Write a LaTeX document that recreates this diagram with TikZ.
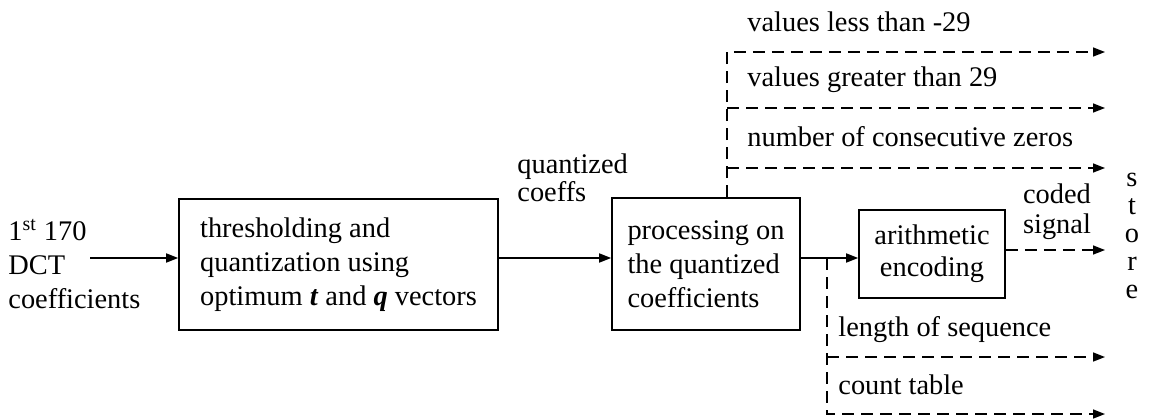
\documentclass[tikz,border=0pt]{standalone}
\usepackage{fontspec}
\setmainfont{Liberation Serif}
\usetikzlibrary{arrows.meta}
\begin{document}
\begin{tikzpicture}[x=0.5pt,y=-0.5pt,
  font=\fontsize{14.2}{17}\selectfont,
  box/.style={draw,line width=0.8pt,inner sep=0pt,align=left},
  lbl/.style={inner sep=0pt,anchor=west},
  tip/.style={-{Triangle[length=6pt,width=4.5pt]}},
  arr/.style={line width=0.8pt,tip},
  dline/.style={line width=0.8pt,dash pattern=on 6pt off 3.5pt},
  darr/.style={dline,tip},
]
\useasboundingbox (0,0) rectangle (1151,418);

% boxes
\node[box, minimum width=159.5pt, minimum height=65.5pt] (q) at (338.5,264.5)
  {thresholding and\\quantization using\\optimum \textit{\textbf{t}} and \textit{\textbf{q}} vectors};
\node[box, minimum width=94pt, minimum height=66pt] (p) at (706,264)
  {processing on\\the quantized\\coefficients};
\node[box, align=center, minimum width=73pt, minimum height=44pt, font=\fontsize{14.2}{16}\selectfont] (a) at (932,254)
  {arithmetic\\encoding};

% labels
\node[lbl, align=left] (inl) at (8,264) {1\textsuperscript{st} 170\\DCT\\coefficients};
\node[lbl, align=left, font=\fontsize{14.2}{13}\selectfont] (qc) at (517,178) {quantized\\coeffs};
\node[lbl] (v1) at (747,22) {values less than -29};
\node[lbl] (v2) at (747,80) {values greater than 29};
\node[lbl] (v3) at (747,137) {number of consecutive zeros};
\node[inner sep=0pt, align=center, font=\fontsize{14.2}{15}\selectfont] (cd) at (1057,212) {coded\\signal};
\node[inner sep=0pt, align=center, font=\fontsize{14.2}{14}\selectfont] (st) at (1132,236) {s\\t\\o\\r\\e};
\node[lbl] (ls) at (838,330) {length of sequence};
\node[lbl] (ct) at (838,385) {count table};

% coordinates
\coordinate (in) at (90,258);
\coordinate (cs) at (1105,250);
\coordinate (u1) at (727,52);
\coordinate (u2) at (727,108);
\coordinate (u3) at (727,168);
\coordinate (t1) at (1105,52);
\coordinate (t2) at (1105,108);
\coordinate (t3) at (1105,168);
\coordinate (l0) at (827,258);
\coordinate (l1) at (827,357);
\coordinate (l2) at (827,414);
\coordinate (t4) at (1105,357);
\coordinate (t5) at (1105,414);

% solid arrows
\draw[arr] (in) -- (in -| q.west);
\draw[arr] (q.east |- in) -- (p.west |- in);
\draw[arr] (p.east |- in) -- (a.west |- in);

% dashed outputs
\draw[darr] (a.east |- cs) -- (cs);
\draw[darr] (p.north -| u1) -- (u1) -- (t1);
\draw[darr] (u2) -- (t2);
\draw[darr] (u3) -- (t3);
\draw[darr] (l0) -- (l2) -- (t5);
\draw[darr] (l1) -- (t4);
\end{tikzpicture}
\end{document}
